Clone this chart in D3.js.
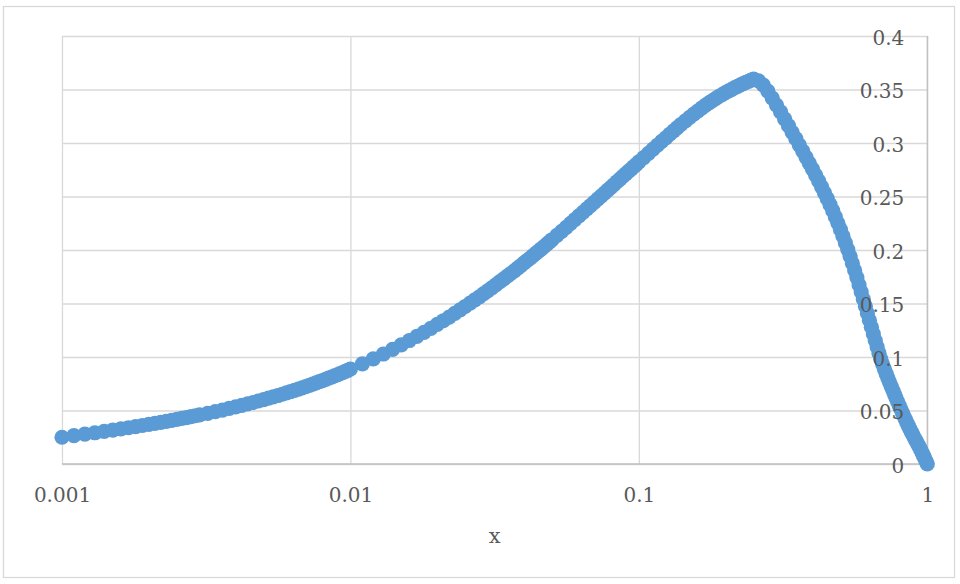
<!DOCTYPE html>
<html><head><meta charset="utf-8">
<script src="https://cdn.jsdelivr.net/npm/d3@7"></script>
<style>body{margin:0;background:#fff}</style>
</head><body><svg id="c" width="960" height="584"></svg>
<script>
const xValues = [
  0.0010,0.0011,0.0012,0.0013,0.0014,0.0015,0.0016,0.0017,0.0018,0.0019,0.0020,
  0.0021,0.0022,0.0023,0.0024,0.0025,0.0026,0.0027,0.0028,0.0029,0.0030,
  0.0032,0.0034,0.0036,0.0038,0.0040,0.0042,0.0044,0.0046,0.0048,0.0050,
  0.0052,0.0054,0.0056,0.0058,0.0060,0.0062,0.0064,0.0066,0.0068,0.0070,
  0.0072,0.0074,0.0076,0.0078,0.0080,0.0082,0.0084,0.0086,0.0088,0.0090,
  0.0092,0.0094,0.0096,0.0098,0.0100,
  0.011,0.012,0.013,0.014,0.015,0.016,0.017,0.018,0.019,0.020,
  0.021,0.022,0.023,0.024,0.025,0.026,0.027,0.028,0.029,0.030,
  0.031,0.032,0.033,0.034,0.035,0.036,0.037,0.038,0.039,0.040,
  0.041,0.042,0.043,0.044,0.045,0.046,0.047,0.048,0.049,0.050,
  0.052,0.054,0.056,0.058,0.060,0.062,0.064,0.066,0.068,0.070,
  0.072,0.074,0.076,0.078,0.080,0.082,0.084,0.086,0.088,0.090,
  0.092,0.094,0.096,0.098,0.100,
  0.104,0.108,0.112,0.116,0.120,0.124,0.128,0.132,0.136,0.140,
  0.145,0.150,0.155,0.160,0.165,0.170,0.175,0.180,0.185,0.190,
  0.195,0.200,0.205,0.210,0.215,0.220,0.225,0.230,0.235,0.240,0.245,0.250,
  0.26,0.27,0.28,0.29,0.30,0.31,0.32,0.33,0.34,0.35,
  0.36,0.37,0.38,0.39,0.40,0.41,0.42,0.43,0.44,0.45,
  0.46,0.47,0.48,0.49,0.50,0.51,0.52,0.53,0.54,0.55,
  0.56,0.57,0.58,0.59,0.60,0.61,0.62,0.63,0.64,0.65,
  0.66,0.67,0.68,0.69,0.70,0.71,0.72,0.73,0.74,0.75,
  0.76,0.77,0.78,0.79,0.80,0.81,0.82,0.83,0.84,0.85,
  0.86,0.87,0.88,0.89,0.90,0.91,0.92,0.93,0.94,0.95,
  0.96,0.97,0.98,0.99,1.00
];
const yValues = [
  0.0250,0.0265,0.0279,0.0292,0.0305,0.0317,0.0328,0.0339,0.0350,0.0360,0.0370,
  0.0380,0.0389,0.0399,0.0408,0.0417,0.0426,0.0434,0.0442,0.0451,0.0459,
  0.0474,0.0489,0.0504,0.0519,0.0533,0.0548,0.0561,0.0575,0.0589,0.0602,
  0.0615,0.0627,0.0640,0.0652,0.0664,0.0676,0.0688,0.0700,0.0712,0.0724,
  0.0735,0.0747,0.0758,0.0769,0.0780,0.0791,0.0802,0.0813,0.0823,0.0834,
  0.0844,0.0855,0.0865,0.0875,0.0888,
  0.0936,0.0983,0.1028,0.1071,0.1113,0.1154,0.1193,0.1231,0.1268,0.1304,
  0.1339,0.1373,0.1407,0.1440,0.1472,0.1503,0.1533,0.1563,0.1592,0.1621,
  0.1649,0.1677,0.1704,0.1730,0.1756,0.1781,0.1806,0.1831,0.1855,0.1879,
  0.1902,0.1925,0.1947,0.1970,0.1991,0.2013,0.2034,0.2055,0.2076,0.2096,
  0.2136,0.2174,0.2212,0.2249,0.2284,0.2318,0.2351,0.2384,0.2415,0.2445,
  0.2475,0.2504,0.2532,0.2559,0.2586,0.2612,0.2638,0.2662,0.2687,0.2711,
  0.2734,0.2757,0.2779,0.2801,0.2823,
  0.2864,0.2904,0.2942,0.2979,0.3015,0.3049,0.3082,0.3114,0.3144,0.3173,
  0.3207,0.3239,0.3270,0.3299,0.3326,0.3351,0.3375,0.3397,0.3418,0.3437,
  0.3455,0.3472,0.3487,0.3502,0.3517,0.3530,0.3543,0.3555,0.3567,0.3577,0.3588,0.3598,
  0.3580,0.3540,0.3485,0.3420,0.3355,0.3290,0.3225,0.3162,0.3100,0.3040,
  0.2981,0.2923,0.2866,0.2810,0.2755,0.2700,0.2645,0.2590,0.2535,0.2480,
  0.2424,0.2367,0.2309,0.2250,0.2190,0.2129,0.2067,0.2004,0.1940,0.1875,
  0.1809,0.1742,0.1675,0.1608,0.1541,0.1474,0.1408,0.1343,0.1279,0.1216,
  0.1154,0.1094,0.1036,0.0980,0.0932,0.0887,0.0844,0.0803,0.0763,0.0724,
  0.0686,0.0649,0.0613,0.0578,0.0544,0.0511,0.0478,0.0446,0.0415,0.0385,
  0.0356,0.0328,0.0301,0.0275,0.0250,0.0226,0.0202,0.0178,0.0154,0.0129,
  0.0104,0.0078,0.0052,0.0026,0.0000
];
const xTicks = [0.001, 0.01, 0.1, 1];
const xTickLabels = ["0.001", "0.01", "0.1", "1"];
const yTicks = [0, 0.05, 0.1, 0.15, 0.2, 0.25, 0.3, 0.35, 0.4];
const yTickLabels = ["0", "0.05", "0.1", "0.15", "0.2", "0.25", "0.3", "0.35", "0.4"];
const xTitle = "x";

const FONT = '"DejaVu Serif", serif';
const svg = d3.select("#c");
svg.append("rect").attr("x", 3.5).attr("y", 6.5).attr("width", 951).attr("height", 571)
  .attr("fill", "#fff").attr("stroke", "#d9d9d9").attr("stroke-width", 1.3);

const L = 62, R = 927.3, T = 36, B = 464;
const x = d3.scaleLog().domain([0.001, 1]).range([L, R]);
const y = d3.scaleLinear().domain([0, 0.4]).range([B, T]);

// gridlines
svg.append("g").attr("transform", `translate(0,${B})`)
  .call(d3.axisBottom(x).tickValues(xTicks).tickSize(-(B - T)).tickFormat(""))
  .call(g => { g.select(".domain").remove(); g.selectAll("line").attr("stroke", "#d9d9d9").attr("stroke-width", 1.3); });
svg.append("g").attr("transform", `translate(${L},0)`)
  .call(d3.axisLeft(y).tickValues(yTicks).tickSize(-(R - L)).tickFormat(""))
  .call(g => { g.select(".domain").remove(); g.selectAll("line").attr("stroke", "#d9d9d9").attr("stroke-width", 1.3); });
// axis lines
svg.append("line").attr("x1", L).attr("x2", R).attr("y1", B).attr("y2", B).attr("stroke", "#bfbfbf").attr("stroke-width", 1.3);
svg.append("line").attr("x1", R).attr("x2", R).attr("y1", T).attr("y2", B).attr("stroke", "#bfbfbf").attr("stroke-width", 1.3);

// points
const pts = xValues.map((v, i) => ({ x: v, y: yValues[i] }));
svg.append("g").selectAll("circle").data(pts).join("circle")
  .attr("cx", d => x(d.x)).attr("cy", d => y(d.y)).attr("r", 7.6)
  .attr("fill", "#5B9BD5");

// x labels
svg.append("g").attr("transform", `translate(0,${B})`)
  .call(d3.axisBottom(x).tickValues(xTicks).tickSize(0).tickPadding(24)
    .tickFormat(d => xTickLabels[xTicks.indexOf(d)]))
  .call(g => {
    g.select(".domain").remove();
    g.attr("font-family", FONT).attr("font-size", 20);
    g.selectAll("text").attr("fill", "#595959");
  });
// y labels
svg.append("g").attr("transform", `translate(${R},0)`)
  .call(d3.axisLeft(y).tickValues(yTicks).tickSize(0).tickPadding(23)
    .tickFormat(d => yTickLabels[yTicks.indexOf(d)]))
  .call(g => {
    g.select(".domain").remove();
    g.attr("font-family", FONT).attr("font-size", 20);
    g.selectAll("text").attr("fill", "#595959").attr("dy", "0.42em");
  });
// title
svg.append("text").attr("x", (L + R) / 2).attr("y", 543).attr("text-anchor", "middle")
  .attr("font-family", FONT).attr("font-size", 21).attr("fill", "#595959").text(xTitle);
</script></body></html>
